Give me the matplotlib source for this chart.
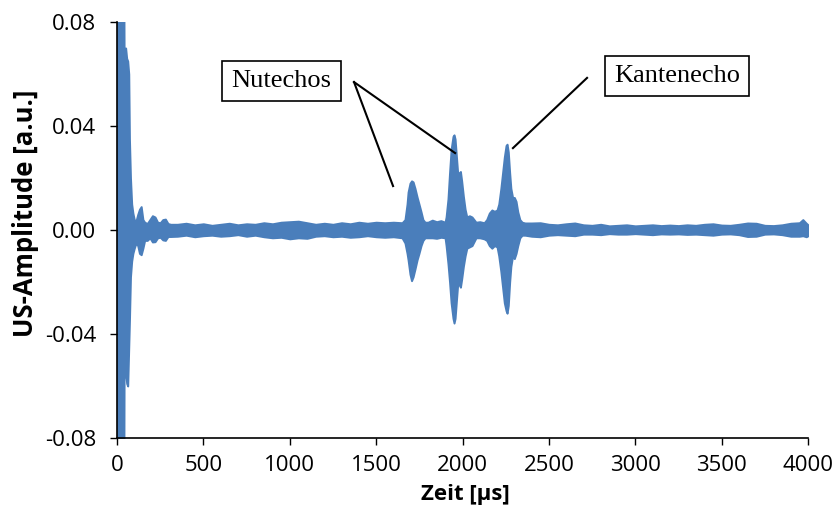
import numpy as np
import matplotlib
matplotlib.use("Agg")
import matplotlib.pyplot as plt
from matplotlib.ticker import FormatStrFormatter

plt.rcParams['font.family'] = ['Open Sans', 'DejaVu Sans']
plt.rcParams['axes.unicode_minus'] = False

# envelope of the US signal: time [µs], upper and lower amplitude
zeit = [0, 30, 40, 41, 50, 56, 62, 68, 72, 78, 85, 92, 100, 110, 120, 130, 140, 150, 160, 175,
        190, 205, 220, 235, 250, 265, 280, 295, 310,
        350, 400, 450, 500, 550, 600, 650, 700, 750, 800, 850, 900, 950, 1000, 1050, 1100,
        1150, 1200, 1250, 1300, 1350, 1400, 1450, 1500, 1550, 1600, 1650,
        1667, 1679, 1685, 1696, 1705, 1714, 1725, 1737, 1748, 1760, 1771, 1783,
        1800, 1825, 1850, 1875,
        1899, 1905, 1916, 1925, 1934, 1945, 1951, 1957, 1965, 1972, 1980, 1988, 1995, 2005,
        2015, 2025, 2040, 2055, 2078,
        2100, 2125, 2140, 2155, 2170, 2185, 2200,
        2210, 2222, 2232, 2242, 2252, 2258, 2265, 2273, 2280, 2290, 2300, 2310, 2320, 2332,
        2345, 2362,
        2400, 2450, 2500, 2550, 2600, 2650, 2700, 2750, 2800, 2850, 2900, 2950, 3000, 3050,
        3100, 3150, 3200, 3250, 3300, 3350, 3400, 3450, 3500, 3550, 3600, 3650, 3700, 3750,
        3800, 3850, 3900, 3950, 3970, 3990, 4000]
oben = [0.085, 0.085, 0.085, 0.070, 0.070, 0.066, 0.065, 0.060, 0.035, 0.020, 0.010, 0.0065,
        0.004, 0.0035, 0.006, 0.008, 0.009, 0.004, 0.003, 0.0025,
        0.004, 0.0055, 0.005, 0.003, 0.0028, 0.004, 0.0042, 0.0025, 0.0022,
        0.0022, 0.0026, 0.0020, 0.0024, 0.0018, 0.0022, 0.0026, 0.0020, 0.0024, 0.0022, 0.0028,
        0.0024, 0.0030, 0.0032, 0.0034, 0.0028,
        0.0022, 0.0026, 0.0022, 0.0028, 0.0024, 0.0030, 0.0026, 0.0030, 0.0028, 0.0030, 0.0028,
        0.004, 0.010, 0.0146, 0.018, 0.0189, 0.0185, 0.016, 0.0127, 0.010, 0.007, 0.004, 0.003,
        0.0030, 0.0038, 0.0032, 0.0036,
        0.003, 0.005, 0.012, 0.022, 0.031, 0.036, 0.0366, 0.035, 0.028, 0.022, 0.022, 0.0225,
        0.019, 0.013, 0.008, 0.005, 0.0055, 0.005, 0.003,
        0.0032, 0.0028, 0.004, 0.0065, 0.0077, 0.0072, 0.0077,
        0.010, 0.016, 0.022, 0.028, 0.0325, 0.033, 0.030, 0.022, 0.016, 0.0125, 0.0125, 0.011,
        0.007, 0.004, 0.003, 0.0027,
        0.0027, 0.0028, 0.0022, 0.0020, 0.0024, 0.0027, 0.0020, 0.0018, 0.0022, 0.0016, 0.0018,
        0.0020, 0.0016, 0.0018,
        0.0020, 0.0017, 0.0019, 0.0017, 0.0020, 0.0018, 0.0022, 0.0024, 0.0019, 0.0018, 0.0022,
        0.0027, 0.0026, 0.0018,
        0.0017, 0.0020, 0.0026, 0.0028, 0.0040, 0.0026, 0.0020]
unten = [-0.085, -0.085, -0.085, -0.057, -0.055, -0.059, -0.060, -0.045, -0.035, -0.018, -0.012,
         -0.009, -0.007, -0.005, -0.006, -0.009, -0.0095, -0.007, -0.004, -0.004,
         -0.003, -0.0046, -0.0045, -0.003, -0.0028, -0.0038, -0.004, -0.0025, -0.0025,
         -0.0024, -0.0020, -0.0026, -0.0022, -0.0020, -0.0024, -0.0022, -0.0018, -0.0024, -0.0020,
         -0.0026, -0.0030, -0.0028, -0.0034, -0.0030, -0.0032,
         -0.0024, -0.0022, -0.0026, -0.0024, -0.0028, -0.0026, -0.0022, -0.0026, -0.0028, -0.0026,
         -0.0030,
         -0.005, -0.009, -0.0115, -0.017, -0.0195, -0.018, -0.015, -0.0115, -0.009, -0.006, -0.004,
         -0.003,
         -0.0030, -0.0030, -0.0032, -0.0028,
         -0.003, -0.006, -0.013, -0.020, -0.028, -0.034, -0.0358, -0.034, -0.027, -0.021, -0.021,
         -0.022, -0.019, -0.014, -0.010, -0.007, -0.0065, -0.006, -0.003,
         -0.0030, -0.0034, -0.004, -0.006, -0.007, -0.006, -0.0065,
         -0.010, -0.016, -0.022, -0.028, -0.031, -0.032, -0.029, -0.020, -0.014, -0.010, -0.011,
         -0.009, -0.006, -0.003, -0.002, -0.002,
         -0.0024, -0.0026, -0.0020, -0.0018, -0.0020, -0.0022, -0.0016, -0.0016, -0.0018, -0.0014,
         -0.0016, -0.0016, -0.0014, -0.0016,
         -0.0018, -0.0015, -0.0016, -0.0015, -0.0017, -0.0016, -0.0018, -0.0020, -0.0016, -0.0015,
         -0.0018, -0.0025, -0.0024, -0.0016,
         -0.0015, -0.0018, -0.0024, -0.0024, -0.0022, -0.0026, -0.0022]

x_ticks = [0, 500, 1000, 1500, 2000, 2500, 3000, 3500, 4000]
y_ticks = [-0.08, -0.04, 0.00, 0.04, 0.08]

blau = '#4a7ebb'

fig = plt.figure(figsize=(8.37, 5.12), dpi=100)
ax = fig.add_axes([117 / 837, 1 - 438 / 512, 691 / 837, 416 / 512])

ax.fill_between(zeit, unten, oben, color=blau, lw=1.4, edgecolor=blau)

ax.set_xlim(0, 4000)
ax.set_ylim(-0.08, 0.08)
ax.set_xticks(x_ticks)
ax.set_yticks(y_ticks)
ax.yaxis.set_major_formatter(FormatStrFormatter('%.2f'))
ax.tick_params(direction='out', length=5, width=1, colors='black', labelsize=16)
ax.tick_params(axis='x', pad=7)
ax.tick_params(axis='y', pad=10)
for s in ['top', 'right']:
    ax.spines[s].set_visible(False)
for s in ['left', 'bottom']:
    ax.spines[s].set_linewidth(1.2)

ax.set_ylabel('US-Amplitude [a.u.]', fontsize=18.5, fontweight='bold')
ax.yaxis.set_label_coords(-0.113, 0.54)
ax.set_xlabel('Zeit [µs]', fontsize=16, fontweight='bold')
ax.xaxis.set_label_coords(0.504, -0.11)

# Beschriftungen
box = dict(boxstyle='square,pad=0.35', fc='white', ec='black', lw=1.2)
ax.text(952, 0.0573, 'Nutechos', fontsize=19, family='Liberation Serif',
        ha='center', va='center', bbox=box)
ax.text(3242, 0.0592, 'Kantenecho', fontsize=19, family='Liberation Serif',
        ha='center', va='center', bbox=box)
ax.plot([1372, 1598], [0.0569, 0.0169], color='black', lw=1.5)
ax.plot([1372, 1957], [0.0569, 0.0296], color='black', lw=1.5)
ax.plot([2721, 2292], [0.0585, 0.0315], color='black', lw=1.5)

fig.savefig('out.png', dpi=100)
